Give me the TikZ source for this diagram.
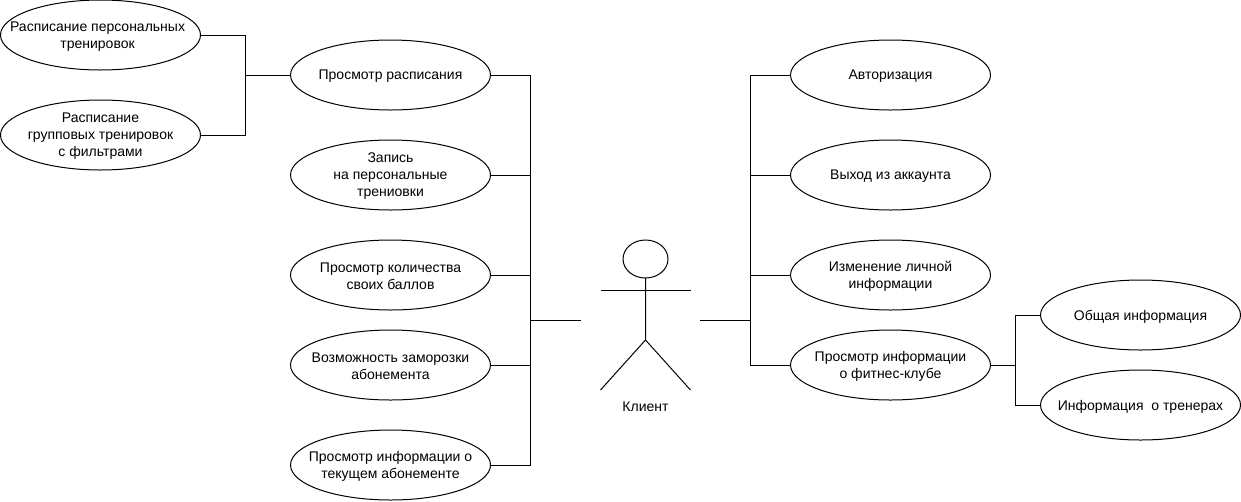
\documentclass[tikz,border=0pt]{standalone}
\usepackage{fontspec}
\setmainfont{Liberation Sans}
\usetikzlibrary{shapes.geometric}
\tikzset{
 uc/.style={draw=black,ellipse,line width=0.75pt,minimum width=150pt,minimum height=52.5pt,inner sep=0pt,outer sep=0pt},
 uctext/.style={align=center,inner sep=0pt,yshift=-1.1pt,font=\fontsize{10.5pt}{12.75pt}\selectfont},
 link/.style={draw=black,line width=0.75pt},
 actorline/.style={draw=black,line width=0.75pt}
}
\begin{document}
\begin{tikzpicture}[x=0.75pt,y=-0.75pt]
\useasboundingbox (0,0) rectangle (1241,501);
\fill[white] (0,0) rectangle (1241,501);
\node[uc,label={[uctext,xshift=-2.2pt]center:Расписание персональных\\тренировок}] (a1) at (100.5,35) {};
\node[uc,label={[uctext]center:Расписание\\групповых тренировок\\с фильтрами}] (a2) at (100.5,135) {};
\node[uc,label={[uctext]center:Просмотр расписания}] (b1) at (390.5,75) {};
\node[uc,label={[uctext]center:Запись\\на персональные\\трениовки}] (b2) at (390.5,175) {};
\node[uc,label={[uctext]center:Просмотр количества\\своих баллов}] (b3) at (390.5,275) {};
\node[uc,label={[uctext]center:Возможность заморозки\\абонемента}] (b4) at (390.5,365) {};
\node[uc,label={[uctext]center:Просмотр информации о\\текущем абонементе}] (b5) at (390.5,465) {};
\node[uc,label={[uctext]center:Авторизация}] (c1) at (890.5,75) {};
\node[uc,label={[uctext]center:Выход из аккаунта}] (c2) at (890.5,175) {};
\node[uc,label={[uctext]center:Изменение личной\\информации}] (c3) at (890.5,275) {};
\node[uc,label={[uctext]center:Просмотр информации\\о фитнес-клубе}] (c4) at (890.5,365) {};
\node[uc,label={[uctext]center:Общая информация}] (d1) at (1140.5,315) {};
\node[uc,label={[uctext]center:Информация\ \ о тренерах}] (d2) at (1140.5,405) {};
% actor
\node[draw=black,ellipse,line width=0.75pt,minimum width=33.75pt,minimum height=28.5pt,inner sep=0pt,outer sep=0pt] (head) at (645.5,259) {};
\coordinate (hip) at (645.5,340);
\coordinate (armL) at (600.5,290);
\coordinate (armR) at (690.5,290);
\coordinate (legL) at (600.5,390);
\coordinate (legR) at (690.5,390);
\draw[actorline] (head.south) -- (hip) -- (legL);
\draw[actorline] (hip) -- (legR);
\draw[actorline] (armL) -- (armR);
\node[uctext] (lbl) at (645.5,405) {Клиент};
\coordinate (lt) at (580.5,320);
\coordinate (rt) at (700,320);
\coordinate (lbus) at (530,320);
\coordinate (rbus) at (750,320);
\coordinate (abus) at (245,75);
\coordinate (dbus) at (1015,365);
% connectors
\draw[link] (a1.east) -| (abus);
\draw[link] (a2.east) -| (abus);
\draw[link] (abus) -- (b1.west);
\draw[link] (b1.east) -| (lbus);
\draw[link] (b2.east) -| (lbus);
\draw[link] (b3.east) -| (lbus);
\draw[link] (b4.east) -| (lbus);
\draw[link] (b5.east) -| (lbus);
\draw[link] (lbus) -- (lt);
\draw[link] (c1.west) -| (rbus);
\draw[link] (c2.west) -| (rbus);
\draw[link] (c3.west) -| (rbus);
\draw[link] (c4.west) -| (rbus);
\draw[link] (rbus) -- (rt);
\draw[link] (c4.east) -- (dbus);
\draw[link] (dbus) |- (d1.west);
\draw[link] (dbus) |- (d2.west);
\end{tikzpicture}
\end{document}
